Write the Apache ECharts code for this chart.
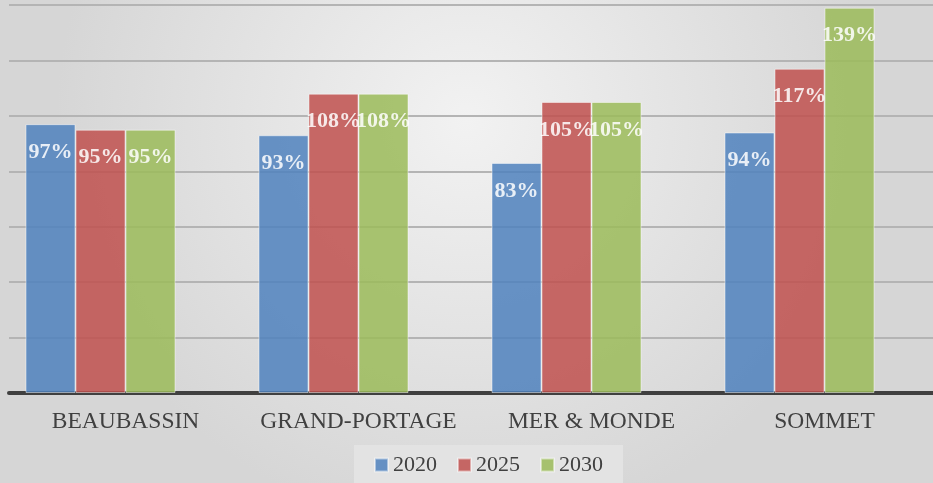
<!DOCTYPE html>
<html>
<head>
<meta charset="utf-8">
<script src="https://cdn.jsdelivr.net/npm/echarts@6/dist/echarts.min.js"></script>
<style>
  html, body { margin: 0; padding: 0; }
  #chart { width: 933px; height: 483px; }
</style>
</head>
<body>
<div id="chart"></div>
<script>
// Occupancy rate (%) per school, for three reference years
const categories = ['BEAUBASSIN', 'GRAND-PORTAGE', 'MER & MONDE', 'SOMMET'];
const values2020 = [97, 93, 83, 94];
const values2025 = [95, 108, 105, 117];
const values2030 = [95, 108, 105, 139];
const yearNames = ['2020', '2025', '2030'];

const baseColors = ['#4F81BD', '#C0504D', '#9BBB59'];
const serif = '"Liberation Serif", "DejaVu Serif", serif';

function barSeries(name, data, color) {
  return {
    name: name,
    type: 'bar',
    data: data,
    barWidth: 50,
    barGap: '0%',
    itemStyle: {
      color: color,
      opacity: 0.85,
      borderColor: 'rgba(255,255,255,0.55)',
      borderWidth: 1
    },
    label: {
      show: true,
      position: 'insideTop',
      distance: 17,
      formatter: '{c}%',
      color: '#ffffff',
      fontFamily: serif,
      fontWeight: 'bold',
      fontSize: 22
    }
  };
}

const chart = echarts.init(document.getElementById('chart'), null, { renderer: 'canvas' });
chart.setOption({
  animation: false,
  backgroundColor: {
    type: 'radial', x: 0.5, y: 0.25, r: 0.85,
    colorStops: [
      { offset: 0, color: '#f2f2f2' },
      { offset: 1, color: '#d6d6d6' }
    ]
  },
  grid: { left: 9, top: 5, width: 932, height: 388, containLabel: false, outerBoundsMode: 'none' },
  xAxis: {
    type: 'category',
    data: categories,
    axisLine: { show: true, lineStyle: { color: '#404040', width: 4 } },
    axisTick: { show: false },
    axisLabel: {
      interval: 0,
      margin: 17,
      color: '#404040',
      fontFamily: serif,
      fontSize: 23.5
    }
  },
  yAxis: {
    type: 'value',
    min: 0,
    max: 140,
    interval: 20,
    axisLine: { show: false },
    axisTick: { show: false },
    axisLabel: { show: false },
    splitLine: { lineStyle: { color: '#b4b4b4', width: 2 } }
  },
  legend: {
    data: yearNames,
    left: 354,
    top: 445,
    padding: [9, 20, 12, 20],
    backgroundColor: '#e3e3e3',
    itemWidth: 13,
    itemHeight: 13,
    itemGap: 20,
    icon: 'rect',
    textStyle: { color: '#404040', fontFamily: serif, fontSize: 22 }
  },
  series: [
    barSeries(yearNames[0], values2020, baseColors[0]),
    barSeries(yearNames[1], values2025, baseColors[1]),
    barSeries(yearNames[2], values2030, baseColors[2]),
    // empty fourth slot keeps each group left of its category centre
    { name: 'spacer', type: 'bar', barWidth: 50, barGap: '0%', data: [null, null, null, null] }
  ]
});
</script>
</body>
</html>
